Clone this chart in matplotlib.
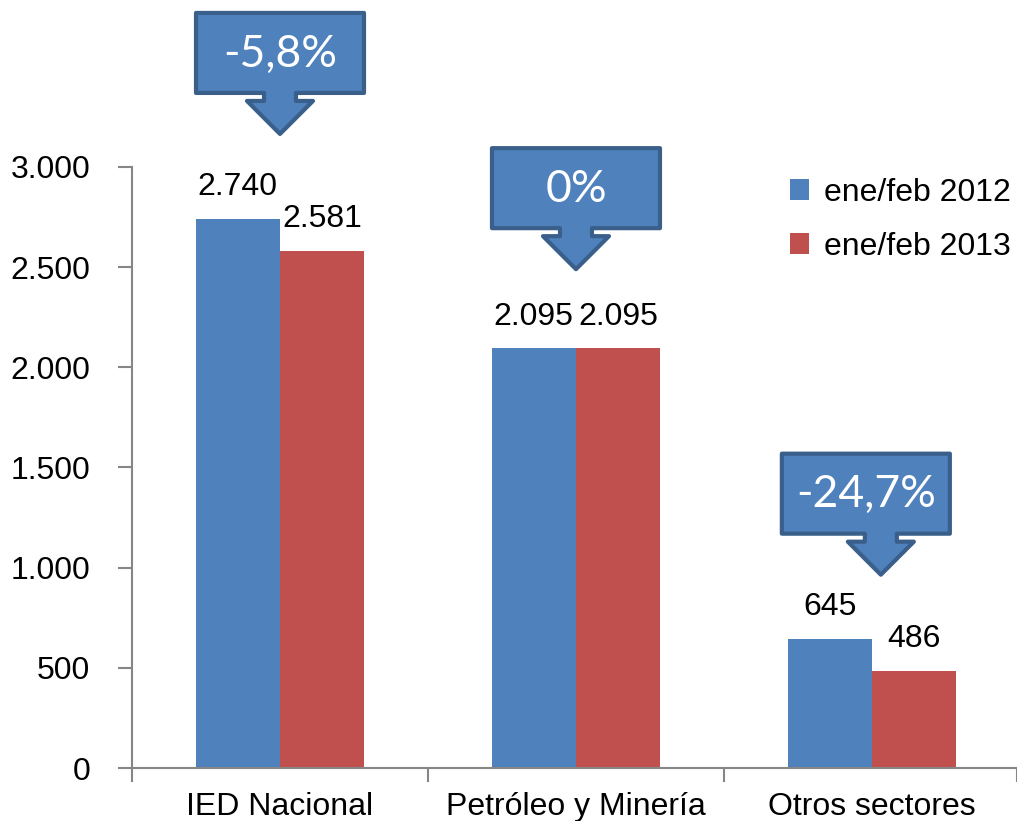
import numpy as np
import matplotlib.pyplot as plt
from matplotlib.patches import Polygon
from matplotlib.transforms import IdentityTransform

plt.rcParams['font.family'] = ['Liberation Sans', 'DejaVu Sans']

# data
categorias = ['IED Nacional', 'Petróleo y Minería', 'Otros sectores']
serie_2012 = [2740, 2095, 645]
serie_2013 = [2581, 2095, 486]
etiquetas_2012 = ['2.740', '2.095', '645']
etiquetas_2013 = ['2.581', '2.095', '486']
variaciones = ['-5,8%', '0%', '-24,7%']
y_ticks = [0, 500, 1000, 1500, 2000, 2500, 3000]
y_ticklabels = ['0', '500', '1.000', '1.500', '2.000', '2.500', '3.000']

azul = '#4F81BD'
rojo = '#C0504D'
borde = '#3A5F8B'
gris = '#868686'

fig = plt.figure(figsize=(10.17, 8.21), dpi=100)
ax = fig.add_axes([132/1017, 53/821, 885/1017, 601/821])

x = np.arange(len(categorias))
w = 0.285
b1 = ax.bar(x - w/2, serie_2012, w, color=azul, label='ene/feb 2012')
b2 = ax.bar(x + w/2, serie_2013, w, color=rojo, label='ene/feb 2013')

for bars, labs in [(b1, etiquetas_2012), (b2, etiquetas_2013)]:
    for r, t in zip(bars, labs):
        ax.annotate(t, (r.get_x() + r.get_width()/2, r.get_height()),
                    xytext=(0, 12), textcoords='offset points',
                    ha='center', va='bottom', fontsize=23)

ax.set_xlim(-0.5, 2.49)
ax.set_ylim(0, 3000)
ax.set_yticks(y_ticks)
ax.set_yticklabels(y_ticklabels)
ax.set_xticks(x)
ax.set_xticklabels(categorias)
ax.set_xticks([-0.5, 0.5, 1.5, 2.49], minor=True)
ax.tick_params(axis='x', which='major', length=0, pad=17, labelsize=23)
ax.tick_params(axis='x', which='minor', length=10, color=gris, width=1.5)
ax.tick_params(axis='y', length=10, color=gris, width=1.5, pad=20, labelsize=23)
for s in ['top', 'right']:
    ax.spines[s].set_visible(False)
for s in ['left', 'bottom']:
    ax.spines[s].set_color(gris)
    ax.spines[s].set_linewidth(1.5)

ax.legend(loc='upper right', bbox_to_anchor=(1.025, 1.03), frameon=False,
          fontsize=23, handlelength=0.6, handleheight=0.6,
          handletextpad=0.45, labelspacing=0.75)

# callouts (flechas)
tips = [(0, 3165, 0), (1, 2490, 0), (2.03, 965, -15)]
fig.canvas.draw()
for (cx, cy, dx), txt in zip(tips, variaciones):
    tx, ty = ax.transData.transform((cx, cy))
    bx = tx + dx
    hw, bw = 84, 16
    verts = [(bx - hw, ty + 121), (bx + hw, ty + 121), (bx + hw, ty + 41),
             (tx + bw, ty + 41), (tx + bw, ty + 33), (tx + 33, ty + 33),
             (tx, ty), (tx - 33, ty + 33), (tx - bw, ty + 33),
             (tx - bw, ty + 41), (bx - hw, ty + 41)]
    p = Polygon(verts, closed=True, facecolor=azul, edgecolor=borde,
                linewidth=3, joinstyle='round', transform=IdentityTransform(),
                clip_on=False, zorder=5)
    fig.add_artist(p)
    fig.text(bx / fig.bbox.width, (ty + 80) / fig.bbox.height, txt,
             ha='center', va='center', color='white', fontsize=32,
             family=['Lato', 'DejaVu Sans'], zorder=6)

fig.savefig('out.png', dpi=100)
